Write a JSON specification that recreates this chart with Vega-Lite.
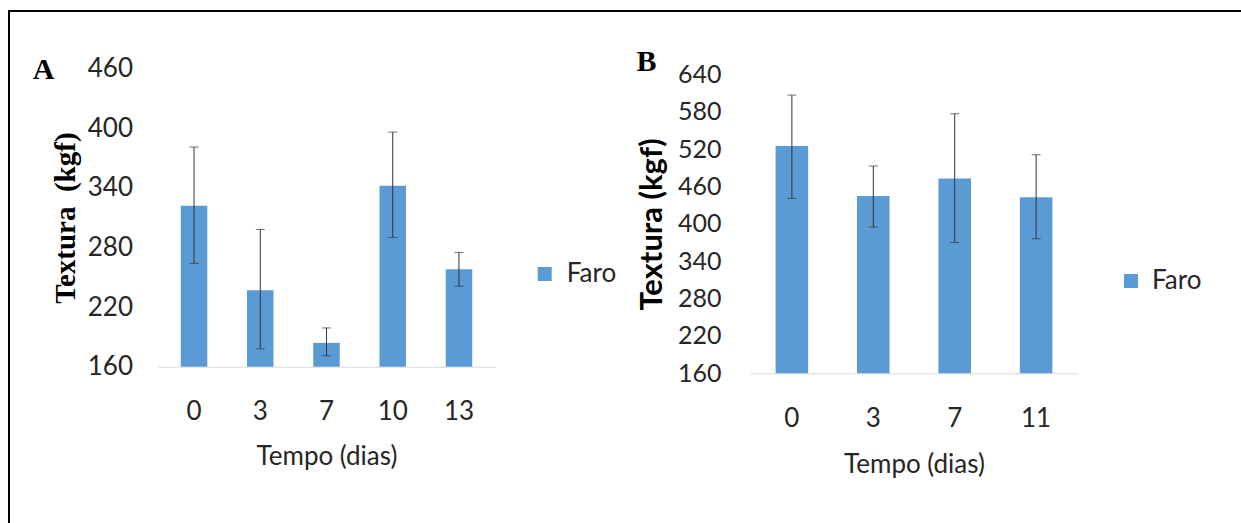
{
  "$schema": "https://vega.github.io/schema/vega-lite/v6.json",
  "width": 1232,
  "height": 512,
  "autosize": {"type": "none"},
  "padding": {"left": 9, "top": 11, "right": 0, "bottom": 0},
  "background": "white",
  "config": {
    "view": {"stroke": "black", "strokeWidth": 2, "strokeDash": [1232, 1744, 512]},
    "axis": {
      "grid": false,
      "ticks": false,
      "tickSize": 0,
      "domain": false,
      "labelFont": "Lato",
      "labelColor": "#262626",
      "titleFont": "Lato",
      "titleColor": "#262626",
      "titleFontWeight": "normal"
    },
    "legend": {
      "labelFont": "Lato",
      "labelFontSize": 26,
      "labelColor": "#262626",
      "symbolType": "square",
      "symbolSize": 196,
      "symbolStrokeWidth": 0,
      "padding": 0
    }
  },
  "datasets": {
    "painelA": [
      {"dia": 0, "textura": 322, "inferior": 264, "superior": 381, "serie": "Faro"},
      {"dia": 3, "textura": 237, "inferior": 178, "superior": 298, "serie": "Faro"},
      {"dia": 7, "textura": 184, "inferior": 171, "superior": 199, "serie": "Faro"},
      {"dia": 10, "textura": 342, "inferior": 290, "superior": 396, "serie": "Faro"},
      {"dia": 13, "textura": 258, "inferior": 241, "superior": 275, "serie": "Faro"}
    ],
    "painelB": [
      {"dia": 0, "textura": 525, "inferior": 441, "superior": 607, "serie": "Faro"},
      {"dia": 3, "textura": 445, "inferior": 395, "superior": 493, "serie": "Faro"},
      {"dia": 7, "textura": 473, "inferior": 370, "superior": 577, "serie": "Faro"},
      {"dia": 11, "textura": 443, "inferior": 376, "superior": 511, "serie": "Faro"}
    ]
  },
  "layer": [
    {
      "data": {"name": "painelA"},
      "encoding": {
        "x": {
          "field": "dia",
          "type": "ordinal",
          "scale": {"range": [149, 486], "paddingInner": 0.6, "paddingOuter": 0.344},
          "axis": {
            "orient": "bottom",
            "offset": -156.3,
            "domain": true,
            "domainColor": "#d9d9d9",
            "domainWidth": 1,
            "labelAngle": 0,
            "labelFontSize": 26,
            "labelPadding": 32,
            "title": "Tempo (dias)",
            "titleFontSize": 26,
            "titlePadding": 19
          }
        }
      },
      "layer": [
        {
          "mark": {"type": "bar", "color": "#5b9bd5"},
          "encoding": {
            "y": {
              "field": "textura",
              "type": "quantitative",
              "scale": {"domain": [160, 460], "range": [355.7, 57.5], "zero": false, "nice": false},
              "axis": {
                "orient": "left",
                "offset": -126.5,
                "values": [160, 220, 280, 340, 400, 460],
                "labelFontSize": 26,
                "labelPadding": 3,
                "title": "Textura\u00a0\u00a0(kgf)",
                "titleFont": "Liberation Serif",
                "titleFontWeight": "bold",
                "titleFontSize": 29,
                "titleColor": "black",
                "titlePadding": 7
              }
            },
            "y2": {"datum": 160},
            "color": {
              "field": "serie",
              "type": "nominal",
              "scale": {"range": ["#5b9bd5"]},
              "legend": {"title": null, "orient": "none", "legendX": 522.7, "legendY": 250, "labelOffset": 9}
            }
          }
        },
        {
          "mark": {"type": "rule", "color": "#333333", "strokeWidth": 1},
          "encoding": {
            "y": {"field": "inferior", "type": "quantitative"},
            "y2": {"field": "superior"}
          }
        },
        {
          "mark": {"type": "tick", "orient": "horizontal", "size": 9, "thickness": 1, "color": "#333333"},
          "encoding": {"y": {"field": "superior", "type": "quantitative"}}
        },
        {
          "mark": {"type": "tick", "orient": "horizontal", "size": 9, "thickness": 1, "color": "#333333"},
          "encoding": {"y": {"field": "inferior", "type": "quantitative"}}
        },
        {
          "data": {"values": [{"painel": "A"}]},
          "mark": {"type": "text", "font": "Liberation Serif", "fontWeight": "bold", "fontSize": 30, "color": "black", "align": "center", "baseline": "middle", "dx": -150.5, "dy": 1},
          "encoding": {
            "x": {"datum": 0},
            "y": {"datum": 460},
            "text": {"field": "painel"}
          }
        }
      ]
    },
    {
      "data": {"name": "painelB"},
      "encoding": {
        "x": {
          "field": "dia",
          "type": "ordinal",
          "scale": {"range": [741, 1069], "paddingInner": 0.6, "paddingOuter": 0.3145},
          "axis": {
            "orient": "bottom",
            "offset": -149.7,
            "domain": true,
            "domainColor": "#d9d9d9",
            "domainWidth": 1,
            "labelAngle": 0,
            "labelFontSize": 26,
            "labelPadding": 32,
            "title": "Tempo (dias)",
            "titleFontSize": 26,
            "titlePadding": 20
          }
        }
      },
      "layer": [
        {
          "mark": {"type": "bar", "color": "#5b9bd5"},
          "encoding": {
            "y": {
              "field": "textura",
              "type": "quantitative",
              "scale": {"domain": [160, 640], "range": [362.3, 63.5], "zero": false, "nice": false},
              "axis": {
                "orient": "left",
                "offset": -715,
                "values": [160, 220, 280, 340, 400, 460, 520, 580, 640],
                "labelFontSize": 25,
                "labelPadding": 3,
                "title": "Textura (kgf)",
                "titleFont": "Lato",
                "titleFontWeight": "bold",
                "titleFontSize": 31,
                "titleColor": "black",
                "titlePadding": 9
              }
            },
            "y2": {"datum": 160},
            "color": {
              "field": "serie",
              "type": "nominal",
              "scale": {"range": ["#5b9bd5"]},
              "legend": {"title": null, "orient": "none", "legendX": 1109, "legendY": 257, "labelOffset": 8}
            }
          }
        },
        {
          "mark": {"type": "rule", "color": "#333333", "strokeWidth": 1},
          "encoding": {
            "y": {"field": "inferior", "type": "quantitative"},
            "y2": {"field": "superior"}
          }
        },
        {
          "mark": {"type": "tick", "orient": "horizontal", "size": 9, "thickness": 1, "color": "#333333"},
          "encoding": {"y": {"field": "superior", "type": "quantitative"}}
        },
        {
          "mark": {"type": "tick", "orient": "horizontal", "size": 9, "thickness": 1, "color": "#333333"},
          "encoding": {"y": {"field": "inferior", "type": "quantitative"}}
        },
        {
          "data": {"values": [{"painel": "B"}]},
          "mark": {"type": "text", "font": "Liberation Serif", "fontWeight": "bold", "fontSize": 30, "color": "black", "align": "center", "baseline": "middle", "dx": -145.5, "dy": -13},
          "encoding": {
            "x": {"datum": 0},
            "y": {"datum": 640},
            "text": {"field": "painel"}
          }
        }
      ]
    }
  ],
  "resolve": {
    "scale": {"x": "independent", "y": "independent", "color": "independent"},
    "axis": {"x": "independent", "y": "independent"},
    "legend": {"color": "independent"}
  }
}
